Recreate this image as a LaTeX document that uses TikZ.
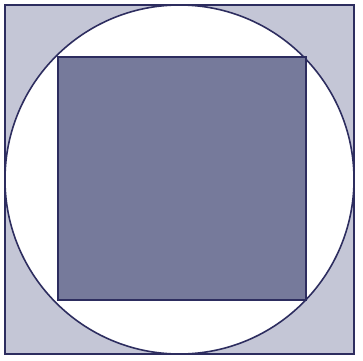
\documentclass[tikz,border=0pt]{standalone}
\usepackage{xcolor}
\usepackage{tikz}
\usetikzlibrary{calc}
\definecolor{edge}{RGB}{45,45,95}
\definecolor{corner}{RGB}{196,198,214}
\definecolor{core}{RGB}{118,122,155}
\tikzset{
    outerbox/.style={
        draw=edge,
        line width=1.2pt,
        fill=corner
    },
    disc/.style={
        draw=edge,
        line width=0.9pt,
        fill=white
    },
    innerbox/.style={
        draw=edge,
        line width=1.3pt,
        fill=core
    }
}
\newcommand{\half}{174.5}

\begin{document}
\begin{tikzpicture}[x=0.02cm, y=-0.02cm]
        \useasboundingbox (0,0) rectangle (363,360);
        \coordinate (centre) at (179.5,179.5);

        \draw[outerbox] ($(centre)+(-\half,-\half)$) rectangle ($(centre)+(\half,\half)$);
        \draw[disc] (centre) circle[radius=\half*0.02cm];
        \draw[innerbox] ($(centre)+(-121.5,-122.5)$) rectangle ($(centre)+(126.5,120.5)$);
    \end{tikzpicture}
\end{document}
